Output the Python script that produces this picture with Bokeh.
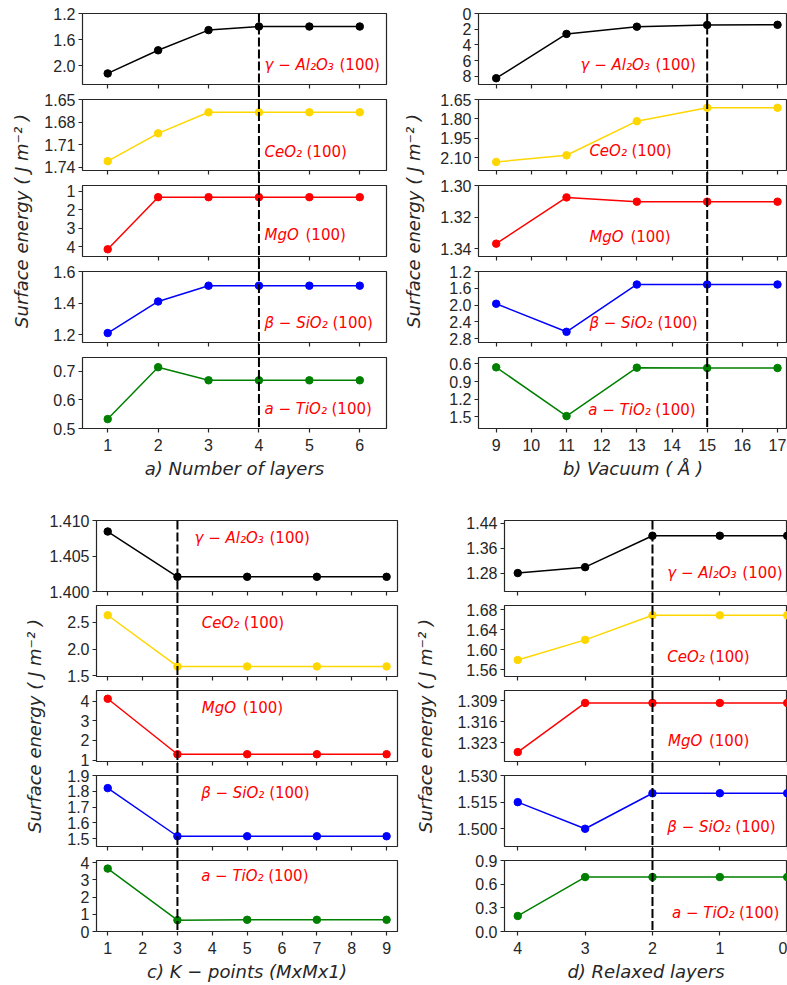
import math
from bokeh.plotting import figure
from bokeh.layouts import row, column
from bokeh.models import Range1d, FixedTicker, PrintfTickFormatter, Label
from bokeh.embed import file_html
from bokeh.resources import INLINE

# ---------------- data ----------------
materials = ["γ − Al₂O₃", "CeO₂", "MgO", "β − SiO₂", "a − TiO₂"]
facet = "(100)"
colors = ["black", "#FFD700", "red", "blue", "green"]

layers = [1, 2, 3, 4, 5, 6]
a_al2o3 = [2.12, 1.765, 1.455, 1.40, 1.40, 1.40]
a_ceo2 = [1.732, 1.695, 1.667, 1.667, 1.667, 1.667]
a_mgo = [4.13, 1.32, 1.32, 1.32, 1.32, 1.32]
a_sio2 = [1.21, 1.41, 1.51, 1.51, 1.51, 1.51]
a_tio2 = [0.533, 0.715, 0.669, 0.669, 0.669, 0.669]

vacuum = [9, 11, 13, 15, 17]
b_al2o3 = [8.25, 2.60, 1.68, 1.46, 1.44]
b_ceo2 = [2.134, 2.082, 1.818, 1.714, 1.714]
b_mgo = [1.3367, 1.3075, 1.3102, 1.3102, 1.3102]
b_sio2 = [1.97, 2.64, 1.51, 1.51, 1.51]
b_tio2 = [0.658, 1.488, 0.663, 0.669, 0.669]

kpoints = [1, 3, 5, 7, 9]
c_al2o3 = [1.40845, 1.40207, 1.40207, 1.40207, 1.40207]
c_ceo2 = [2.634, 1.678, 1.678, 1.678, 1.678]
c_mgo = [4.12, 1.30, 1.30, 1.30, 1.30]
c_sio2 = [1.82, 1.515, 1.515, 1.515, 1.515]
c_tio2 = [3.65, 0.66, 0.68, 0.68, 0.68]

relaxed = [4, 3, 2, 1, 0]
d_al2o3 = [1.28, 1.299, 1.40, 1.40, 1.40]
d_ceo2 = [1.58, 1.62, 1.669, 1.669, 1.669]
d_mgo = [1.326, 1.3098, 1.3098, 1.3098, 1.3098]
d_sio2 = [1.515, 1.500, 1.520, 1.520, 1.520]
d_tio2 = [0.197, 0.69, 0.69, 0.69, 0.69]

# axis ranges (bottom, top) and ticks
a_yranges = [(2.29, 1.2), (1.7444, 1.65), (4.52, 0.69), (1.15, 1.6), (0.5, 0.749)]
a_yticks = [[1.2, 1.6, 2.0], [1.65, 1.68, 1.71, 1.74], [1, 2, 3, 4], [1.2, 1.4, 1.6], [0.5, 0.6, 0.7]]
a_yfmt = ["%.1f", "%.2f", "%.0f", "%.1f", "%.1f"]
b_yranges = [(9.05, 0.0), (2.20, 1.65), (1.3448, 1.30), (2.895, 1.2), (1.70, 0.49)]
b_yticks = [[0, 2, 4, 6, 8], [1.65, 1.80, 1.95, 2.10], [1.30, 1.32, 1.34], [1.2, 1.6, 2.0, 2.4, 2.8], [0.6, 0.9, 1.2, 1.5]]
b_yfmt = ["%.0f", "%.2f", "%.2f", "%.1f", "%.1f"]
c_yranges = [(1.400, 1.410), (1.49, 2.816), (0.93, 4.54), (1.45, 1.90), (0.0, 4.12)]
c_yticks = [[1.400, 1.405, 1.410], [1.5, 2.0, 2.5], [1, 2, 3, 4], [1.5, 1.6, 1.7, 1.8, 1.9], [0, 1, 2, 3, 4]]
c_yfmt = ["%.3f", "%.1f", "%.0f", "%.1f", "%.0f"]
d_yranges = [(1.2207, 1.449), (1.547, 1.6885), (1.3291, 1.3057), (1.490, 1.530), (0.0, 0.9)]
d_yticks = [[1.28, 1.36, 1.44], [1.56, 1.60, 1.64, 1.68], [1.309, 1.316, 1.323], [1.500, 1.515, 1.530], [0.0, 0.3, 0.6, 0.9]]
d_yfmt = ["%.2f", "%.2f", "%.3f", "%.3f", "%.1f"]

a_xticks = [1, 2, 3, 4, 5, 6]
b_xticks = [9, 10, 11, 12, 13, 14, 15, 16, 17]
c_xticks = [1, 2, 3, 4, 5, 6, 7, 8, 9]
d_xticks = [4, 3, 2, 1, 0]

xlabels = ["a) Number of layers", "b) Vacuum ( Å )", "c) K − points (MxMx1)", "d) Relaxed layers"]
ylabel = "Surface energy ( J m⁻² )"
converged = [4, 15, 3, 2]

# ---------------- style / layout ----------------
INK = "#262626"
TICK_FONT = "Liberation Sans"
MATH_FONT = "DejaVu Sans"
FRAME_H = 71
facet_offsets = [75, 42, 41, 68, 67]

panels = [
    dict(x=layers, ys=[a_al2o3, a_ceo2, a_mgo, a_sio2, a_tio2], yr=a_yranges, yt=a_yticks, yf=a_yfmt,
         xr=(0.5, 6.53), xt=a_xticks, conv=converged[0], xlabel=xlabels[0],
         lx=[4.11] * 5, lf=[0.27, 0.26, 0.30, 0.27, 0.27],
         left=48, frame_w=304, right=12,
         bt=[13, 9, 6, 9, 8], bb=[6, 9, 6, 7, 54]),
    dict(x=vacuum, ys=[b_al2o3, b_ceo2, b_mgo, b_sio2, b_tio2], yr=b_yranges, yt=b_yticks, yf=b_yfmt,
         xr=(8.497, 17.284), xt=b_xticks, conv=converged[1], xlabel=xlabels[1],
         lx=[11.40, 11.65, 11.65, 11.65, 11.62], lf=[0.27, 0.27, 0.28, 0.27, 0.26],
         left=50, frame_w=309, right=0,
         bt=[13, 9, 9, 9, 8], bb=[6, 6, 6, 7, 54]),
    dict(x=kpoints, ys=[c_al2o3, c_ceo2, c_mgo, c_sio2, c_tio2], yr=c_yranges, yt=c_yticks, yf=c_yfmt,
         xr=(0.678, 9.313), xt=c_xticks, conv=converged[2], xlabel=xlabels[2],
         lx=[3.49, 3.70, 3.70, 3.68, 3.68], lf=[0.76, 0.76, 0.76, 0.76, 0.775],
         left=48, frame_w=303, right=13,
         bt=[38, 4, 4, 7, 8], bb=[10, 10, 7, 6, 54]),
    dict(x=relaxed, ys=[d_al2o3, d_ceo2, d_mgo, d_sio2, d_tio2], yr=d_yranges, yt=d_yticks, yf=d_yfmt,
         xr=(4.197, -0.0045), xt=d_xticks, conv=converged[3], xlabel=xlabels[3],
         lx=[1.78, 1.78, 1.77, 1.78, 1.71], lf=[0.255, 0.27, 0.29, 0.27, 0.26],
         left=64, frame_w=283, right=0,
         bt=[38, 8, 6, 9, 9], bb=[6, 8, 5, 5, 54]),
]


def make_sub(pn, k):
    n = len(pn["ys"])
    bt, bb = pn["bt"][k], pn["bb"][k]
    ylo, yhi = pn["yr"][k]
    p = figure(width=pn["left"] + pn["frame_w"] + pn["right"], height=bt + FRAME_H + bb,
               x_range=Range1d(*pn["xr"]), y_range=Range1d(ylo, yhi),
               min_border_left=pn["left"], min_border_right=pn["right"],
               min_border_top=bt, min_border_bottom=bb,
               toolbar_location=None, output_backend="svg")
    p.grid.visible = False
    p.background_fill_color = "white"
    p.border_fill_color = "white"
    p.outline_line_color = INK
    p.outline_line_width = 1.2

    ya = p.yaxis[0]
    ya.ticker = FixedTicker(ticks=pn["yt"][k], minor_ticks=[])
    ya.formatter = PrintfTickFormatter(format=pn["yf"][k])
    ya.axis_line_color = None
    ya.major_tick_line_color = INK
    ya.major_tick_line_width = 1.2
    ya.major_tick_out = 4
    ya.major_tick_in = 0
    ya.major_label_standoff = 3
    ya.major_label_text_font = TICK_FONT
    ya.major_label_text_font_size = "16px"
    ya.major_label_text_color = INK

    xa = p.xaxis[0]
    xa.ticker = FixedTicker(ticks=pn["xt"], minor_ticks=[])
    xa.formatter = PrintfTickFormatter(format="%d")
    xa.axis_line_color = None
    xa.major_tick_line_color = INK
    xa.major_tick_line_width = 1.2
    xa.major_tick_out = 4
    xa.major_tick_in = 0
    if k == n - 1:
        xa.major_label_standoff = 6
        xa.major_label_text_font = TICK_FONT
        xa.major_label_text_font_size = "16px"
        xa.major_label_text_color = INK
        xa.axis_label = pn["xlabel"]
        xa.axis_label_standoff = 4
        xa.axis_label_text_font = MATH_FONT
        xa.axis_label_text_font_style = "italic"
        xa.axis_label_text_font_size = "18px"
        xa.axis_label_text_color = INK
    else:
        xa.major_label_standoff = 0
        xa.major_label_text_font_size = "0px"
        xa.major_label_text_color = None

    col = colors[k]
    p.line(pn["x"], pn["ys"][k], line_color=col, line_width=1.5)
    p.scatter(pn["x"], pn["ys"][k], size=7.5, fill_color=col, line_color=col)

    span = yhi - ylo
    y_top = yhi if k == 0 else yhi + 0.5 * span
    y_bot = ylo if k == n - 1 else ylo - 0.5 * span
    p.segment(x0=[pn["conv"]], y0=[y_top], x1=[pn["conv"]], y1=[y_bot],
              line_color="black", line_width=2, line_dash="9 3", level="overlay")

    ly = ylo + span * pn["lf"][k]
    p.add_layout(Label(x=pn["lx"][k], y=ly, text=materials[k], text_color="red",
                       text_font=MATH_FONT, text_font_style="italic", text_font_size="15px",
                       text_baseline="middle", text_align="left"))
    p.add_layout(Label(x=pn["lx"][k], y=ly, x_offset=facet_offsets[k], text=facet, text_color="red",
                       text_font=MATH_FONT, text_font_style="normal", text_font_size="15px",
                       text_baseline="middle", text_align="left"))
    return p


def make_col(pn):
    return column([make_sub(pn, k) for k in range(5)], spacing=0)


def col_height(pn):
    return sum(pn["bt"]) + sum(pn["bb"]) + 5 * FRAME_H


def box_center_from_bottom(pn):
    h = col_height(pn)
    top = pn["bt"][0]
    bottom = h - pn["bb"][-1]
    return h - (top + bottom) / 2.0


def make_ylabel(w, h, cx, cy):
    p = figure(width=w, height=h, x_range=Range1d(0, w), y_range=Range1d(0, h),
               min_border=0, toolbar_location=None, output_backend="svg",
               x_axis_type=None, y_axis_type=None)
    p.grid.visible = False
    p.outline_line_color = None
    p.add_layout(Label(x=cx, y=cy, text=ylabel, angle=math.pi / 2, text_align="center",
                       text_baseline="middle", text_font=MATH_FONT, text_font_style="italic",
                       text_font_size="18px", text_color=INK))
    return p


top_h = col_height(panels[0])
bot_h = col_height(panels[2])
top_c = box_center_from_bottom(panels[0])
bot_c = box_center_from_bottom(panels[2])

top_row = row([make_ylabel(34, top_h, 21, top_c), make_col(panels[0]),
               make_ylabel(30, top_h, 15, top_c), make_col(panels[1])], spacing=0)
bot_row = row([make_ylabel(46, bot_h, 34, bot_c), make_col(panels[2]),
               make_ylabel(30, bot_h, 15, bot_c), make_col(panels[3])], spacing=0)
layout = column([top_row, bot_row], spacing=0)

open("out.html", "w").write(file_html(layout, INLINE))
